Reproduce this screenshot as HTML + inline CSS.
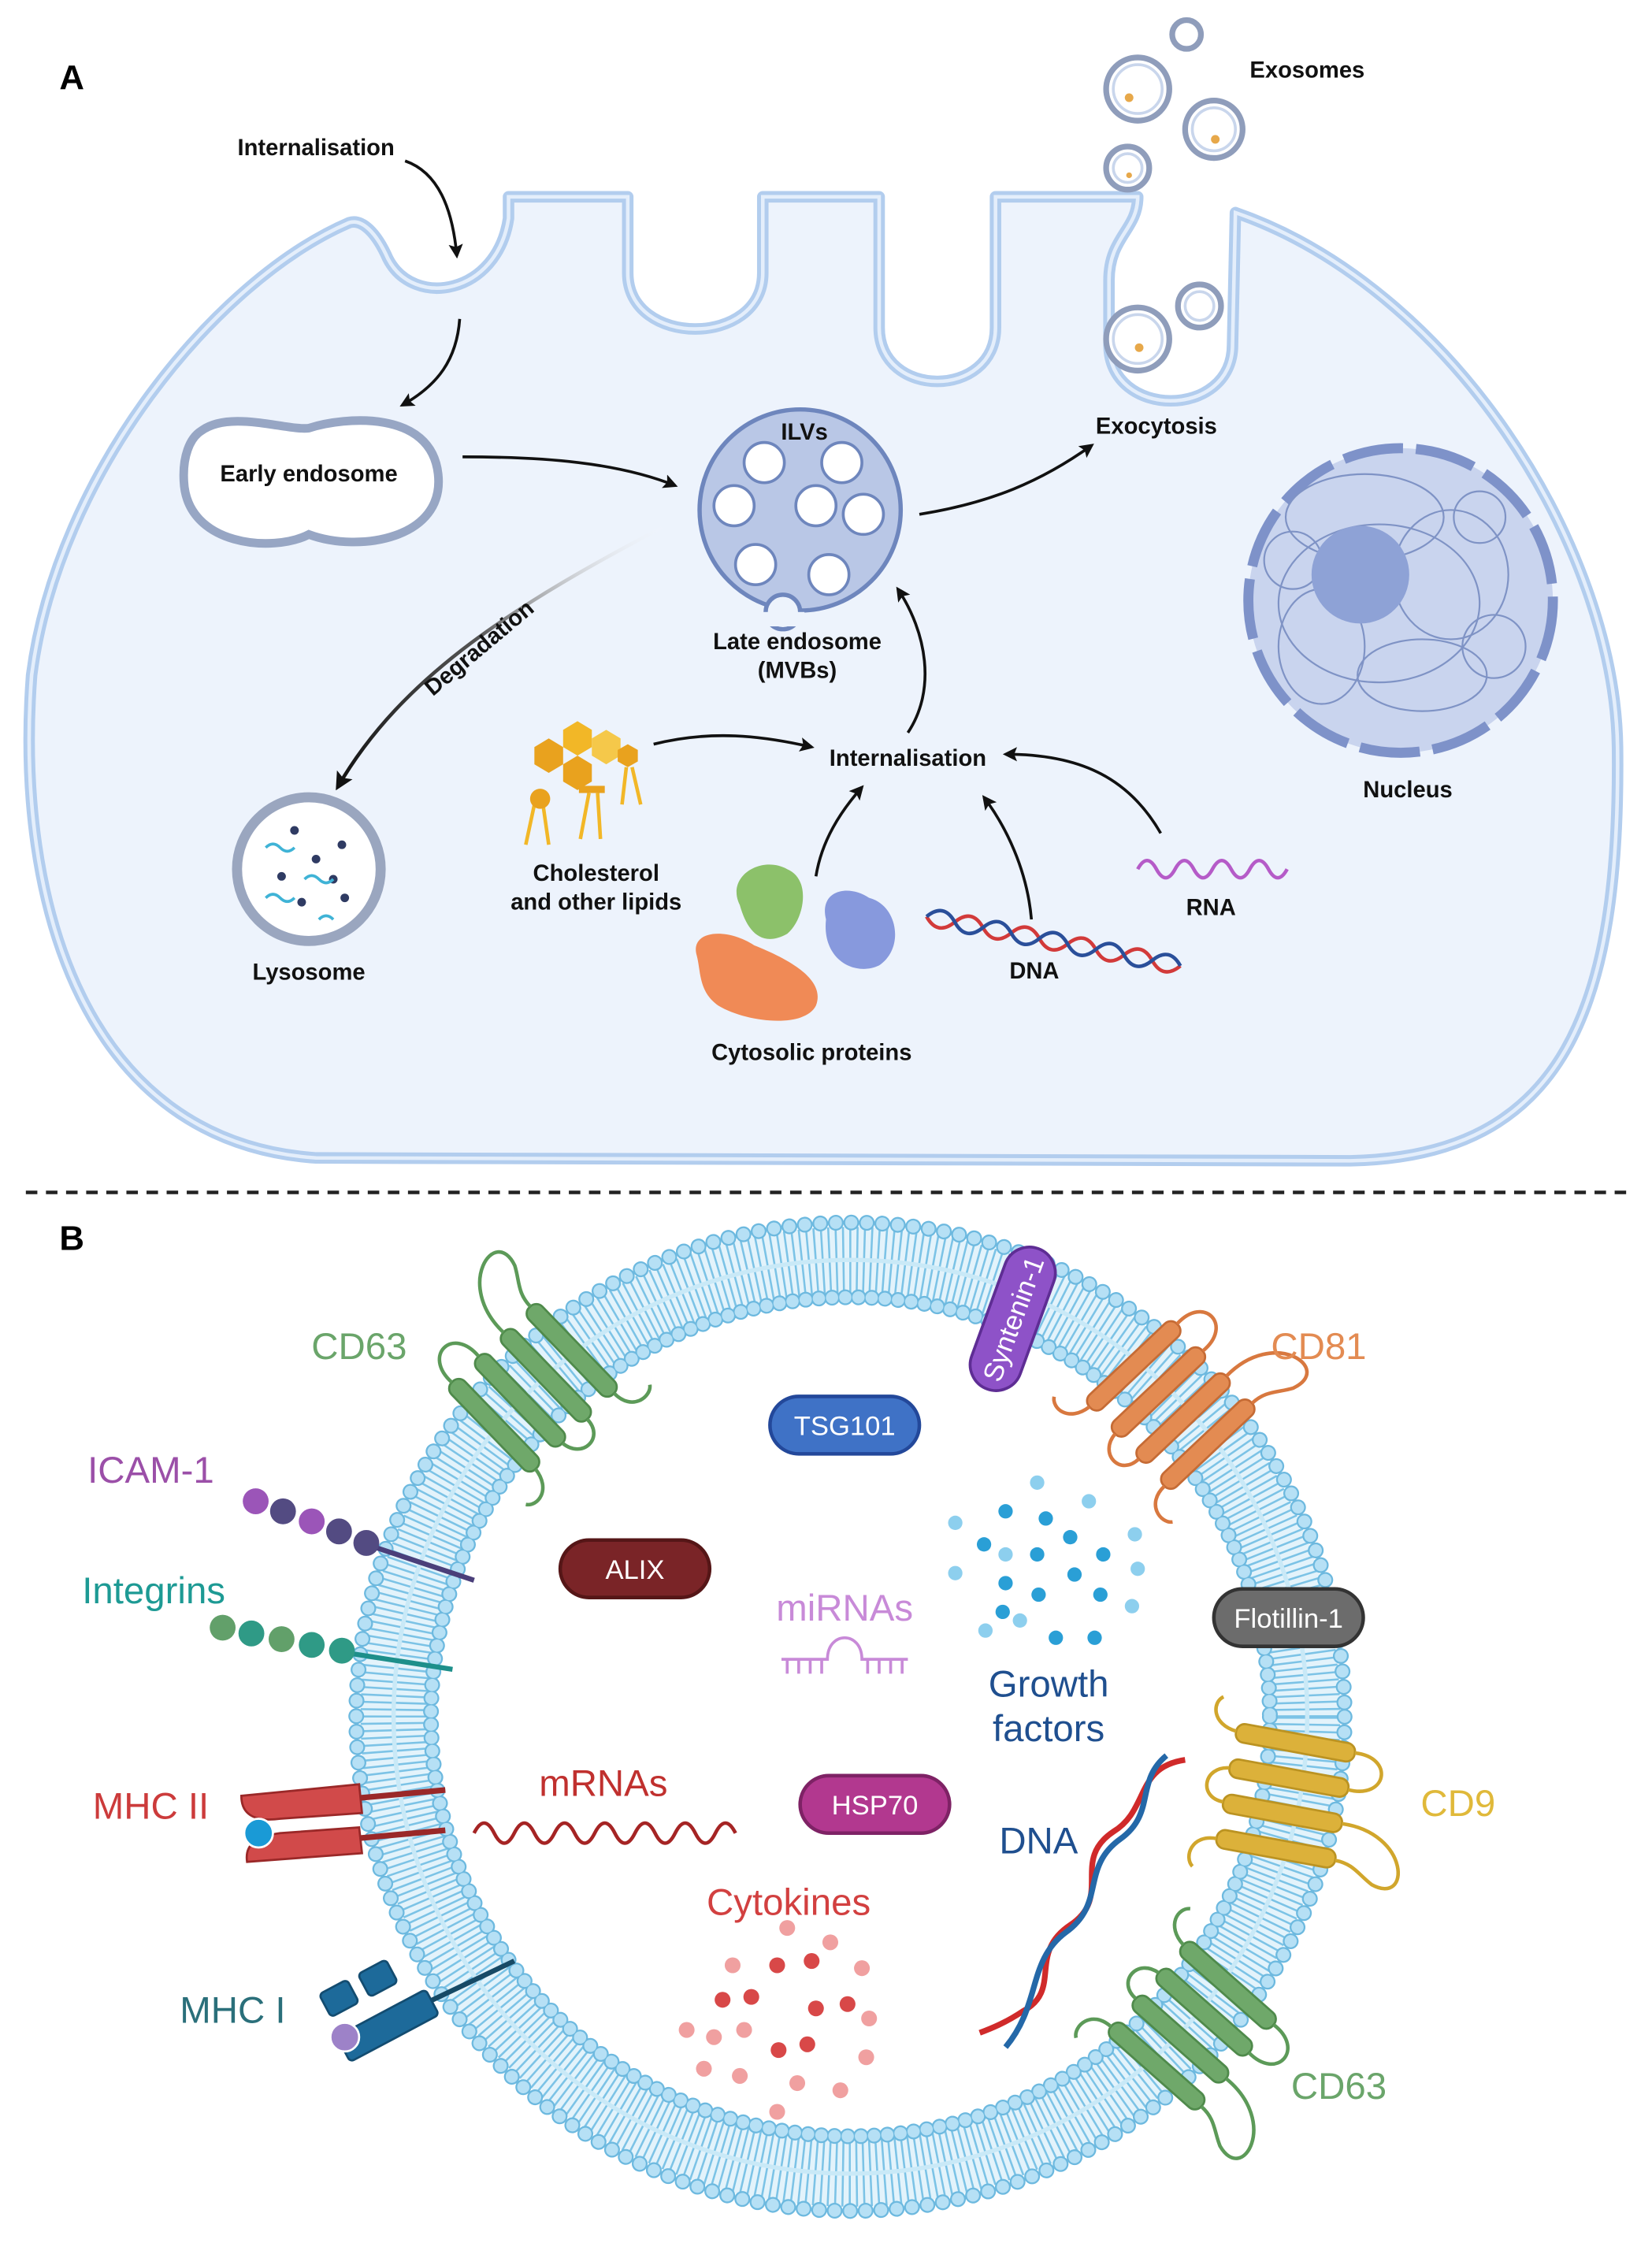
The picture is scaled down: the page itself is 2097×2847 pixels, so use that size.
<!DOCTYPE html>
<html><head><meta charset="utf-8"><style>
html,body{margin:0;padding:0;background:#fff}
svg{display:block}
.a{font-family:"Liberation Sans",sans-serif;font-weight:bold;font-size:16px;fill:#111;text-anchor:middle}
.b{font-family:"Liberation Sans",sans-serif;font-size:26px;text-anchor:middle}
.p{font-family:"Liberation Sans",sans-serif;font-size:19px;fill:#fff;text-anchor:middle}
</style></head><body>
<svg width="2097" height="2847" viewBox="0 0 1150 1561.3" xmlns="http://www.w3.org/2000/svg">
<defs>
<marker id="ar" viewBox="0 0 10 10" refX="8" refY="5" markerWidth="5" markerHeight="5" orient="auto"><path d="M0,0 L10,5 L0,10 L2,5z" fill="#111"/></marker>
<linearGradient id="dg" x1="1" y1="0" x2="0" y2="1"><stop offset="0" stop-color="#fff" stop-opacity="0"/><stop offset="0.5" stop-color="#555"/><stop offset="1" stop-color="#111"/></linearGradient>
</defs>
<rect width="1150" height="1562" fill="#fff"/>
<!-- PART A -->
<text x="50" y="62" font-family="Liberation Sans,sans-serif" font-weight="bold" font-size="24" text-anchor="middle">A</text>
<path d="M243,155 C150,195 40,330 22,470 C10,630 60,795 220,806 L940,808 C1090,805 1128,700 1126,520 C1124,380 1010,200 860,148 L858,240 C858,292 772,292 772,240 L772,195 C772,165 792,160 792,137 L693,137 L693,228 C693,278 612,278 612,228 L612,137 L531,137 L531,190 C531,242 437,242 437,190 L437,137 L354,137 L354,152 C346,205 288,215 270,180 C262,162 252,152 243,155Z" fill="#edf3fc" stroke="#b2cdee" stroke-width="8" stroke-linejoin="round"/>
<path d="M243,155 C150,195 40,330 22,470 C10,630 60,795 220,806 L940,808 C1090,805 1128,700 1126,520 C1124,380 1010,200 860,148 L858,240 C858,292 772,292 772,240 L772,195 C772,165 792,160 792,137 L693,137 L693,228 C693,278 612,278 612,228 L612,137 L531,137 L531,190 C531,242 437,242 437,190 L437,137 L354,137 L354,152 C346,205 288,215 270,180 C262,162 252,152 243,155Z" fill="none" stroke="#e4eefb" stroke-width="2.5"/>
<!-- exosomes -->
<g fill="#fff" stroke="#8f9dbb" stroke-width="4">
<circle cx="826" cy="24" r="10"/><circle cx="792" cy="62" r="22"/><circle cx="845" cy="90" r="20"/><circle cx="785" cy="117" r="15"/><circle cx="835" cy="213" r="15"/><circle cx="792" cy="236" r="22"/></g>
<g fill="none" stroke="#c9d6ec" stroke-width="2">
<circle cx="792" cy="62" r="17"/><circle cx="845" cy="90" r="15"/><circle cx="785" cy="117" r="10"/><circle cx="835" cy="213" r="10"/><circle cx="792" cy="236" r="17"/></g>
<g fill="#e7a84a"><circle cx="786" cy="68" r="3"/><circle cx="846" cy="97" r="3"/><circle cx="793" cy="242" r="3"/><circle cx="786" cy="122" r="2"/></g>
<text class="a" x="910" y="54">Exosomes</text>
<text class="a" x="220" y="108">Internalisation</text>
<path d="M282,112 C305,120 315,145 318,178" fill="none" stroke="#111" stroke-width="2" marker-end="url(#ar)"/>
<path d="M320,222 C318,250 305,268 280,282" fill="none" stroke="#111" stroke-width="2" marker-end="url(#ar)"/>
<!-- early endosome -->
<path d="M140,300 C160,285 200,300 215,298 C240,290 300,285 305,330 C310,375 250,385 215,372 C190,385 130,380 128,335 C127,318 132,305 140,300Z" fill="#fff" stroke="#97a6c4" stroke-width="6"/>
<text class="a" x="215" y="335">Early endosome</text>
<path d="M322,318 C380,318 430,322 470,338" fill="none" stroke="#111" stroke-width="2" marker-end="url(#ar)"/>
<!-- late endosome -->
<circle cx="557" cy="355" r="70" fill="#b9c7e6" stroke="#6e86bd" stroke-width="3"/>
<circle cx="545" cy="426" r="12" fill="#edf3fc" stroke="#6e86bd" stroke-width="3"/>
<rect x="530" y="426" width="30" height="10" fill="#edf3fc"/>
<g fill="#fff" stroke="#6e86bd" stroke-width="2">
<circle cx="532" cy="322" r="14"/><circle cx="586" cy="322" r="14"/><circle cx="511" cy="352" r="14"/><circle cx="568" cy="352" r="14"/><circle cx="601" cy="358" r="14"/><circle cx="526" cy="393" r="14"/><circle cx="577" cy="400" r="14"/></g>
<text class="a" x="560" y="306" font-size="12">ILVs</text>
<text class="a" x="555" y="452">Late endosome</text>
<text class="a" x="555" y="472">(MVBs)</text>
<path d="M640,358 C690,350 725,335 760,310" fill="none" stroke="#111" stroke-width="2" marker-end="url(#ar)"/>
<text class="a" x="805" y="302">Exocytosis</text>
<!-- nucleus -->
<circle cx="975" cy="418" r="106" fill="#c9d4ee" stroke="#7e92c9" stroke-width="7" stroke-dasharray="42 9"/>
<g fill="none" stroke="#7f93c5" stroke-width="1.2">
<ellipse cx="950" cy="360" rx="55" ry="30"/><ellipse cx="1010" cy="400" rx="40" ry="45"/><ellipse cx="920" cy="450" rx="30" ry="40"/><ellipse cx="990" cy="470" rx="45" ry="25"/><ellipse cx="960" cy="420" rx="70" ry="55"/><circle cx="1030" cy="360" r="18"/><circle cx="900" cy="390" r="20"/><circle cx="1040" cy="450" r="22"/></g>
<circle cx="947" cy="400" r="34" fill="#8ea2d6"/>
<text class="a" x="980" y="555">Nucleus</text>
<!-- degradation -->
<path d="M465,365 C360,420 280,470 235,548" fill="none" stroke="url(#dg)" stroke-width="2.5" marker-end="url(#ar)"/>
<text class="a" x="0" y="0" font-size="14" transform="translate(337,455) rotate(-40)">Degradation</text>
<!-- lysosome -->
<circle cx="215" cy="605" r="50" fill="#fff" stroke="#9aa6bf" stroke-width="7"/>
<g fill="#2f3b63"><circle cx="205" cy="578" r="3"/><circle cx="238" cy="588" r="3"/><circle cx="220" cy="598" r="3"/><circle cx="196" cy="610" r="3"/><circle cx="232" cy="612" r="3"/><circle cx="210" cy="628" r="3"/><circle cx="240" cy="625" r="3"/></g>
<g fill="none" stroke="#3fb3d6" stroke-width="2"><path d="M185,590 q5,-5 10,0 t10,0"/><path d="M212,612 q5,-5 10,0 t10,0"/><path d="M185,625 q5,-5 10,0 t10,0"/><path d="M222,640 q5,-5 10,0"/></g>
<text class="a" x="215" y="682">Lysosome</text>
<!-- internalisation center -->
<text class="a" x="632" y="533">Internalisation</text>
<path d="M455,518 C495,508 530,512 565,520" fill="none" stroke="#111" stroke-width="2" marker-end="url(#ar)"/>
<path d="M632,510 C652,480 645,440 625,410" fill="none" stroke="#111" stroke-width="2" marker-end="url(#ar)"/>
<path d="M568,610 C572,585 585,565 600,548" fill="none" stroke="#111" stroke-width="2" marker-end="url(#ar)"/>
<path d="M718,640 C715,605 700,575 685,555" fill="none" stroke="#111" stroke-width="2" marker-end="url(#ar)"/>
<path d="M808,580 C785,540 750,525 700,525" fill="none" stroke="#111" stroke-width="2" marker-end="url(#ar)"/>
<!-- lipids -->
<g stroke="none">
<path d="M372,520 l10,-6 10,6 0,12 -10,6 -10,-6z" fill="#e9a21e"/>
<path d="M392,508 l10,-6 10,6 0,12 -10,6 -10,-6z" fill="#f2b727"/>
<path d="M392,532 l10,-6 10,6 0,12 -10,6 -10,-6z" fill="#e9a21e"/>
<path d="M412,514 l10,-6 10,6 0,12 -10,6 -10,-6z" fill="#f5c84a"/>
<path d="M430,522 l7,-4 7,4 0,8 -7,4 -7,-4z" fill="#e9a21e"/>
</g>
<g fill="none" stroke="#f2b727" stroke-width="2.5"><path d="M372,560 l-6,28 M378,560 l4,28 M436,534 l-3,26 M440,534 l6,26 M410,552 l-6,32 M416,552 l2,32"/></g>
<circle cx="376" cy="556" r="7" fill="#e9a21e"/><rect x="403" y="547" width="18" height="5" fill="#e9a21e"/>
<text class="a" x="415" y="613">Cholesterol</text>
<text class="a" x="415" y="633">and other lipids</text>
<!-- proteins -->
<path d="M515,630 C505,610 530,595 548,605 C565,612 560,640 548,650 C530,660 520,648 515,630Z" fill="#8cc16a"/>
<path d="M575,640 C570,620 590,615 605,625 C625,630 630,660 612,672 C595,680 572,668 575,640Z" fill="#8799dd"/>
<path d="M485,665 C480,648 505,645 525,658 C550,668 575,682 568,700 C560,716 520,712 500,700 C486,690 488,676 485,665Z" fill="#f08a56"/>
<text class="a" x="565" y="738">Cytosolic proteins</text>
<!-- DNA A -->
<g transform="rotate(11 645 638)">
<path d="M645,638 q10,12 20,0 t20,0 t20,0 t20,0 t20,0 t20,0 t20,0 t20,0 t20,0" fill="none" stroke="#d23a3a" stroke-width="2.5"/>
<path d="M645,638 q10,-12 20,0 t20,0 t20,0 t20,0 t20,0 t20,0 t20,0 t20,0 t20,0" fill="none" stroke="#2a4f9a" stroke-width="2.5"/>
</g>
<text class="a" x="720" y="681">DNA</text>
<path d="M792,605 q6.5,-12 13,0 t13,0 t13,0 t13,0 t13,0 t13,0 t13,0 t13,0" fill="none" stroke="#b55bc8" stroke-width="2.5"/>
<text class="a" x="843" y="637">RNA</text>

<!-- PART B -->
<line x1="18" y1="830" x2="1135" y2="830" stroke="#222" stroke-width="2.5" stroke-dasharray="8 6"/>
<text x="50" y="870" font-family="Liberation Sans,sans-serif" font-weight="bold" font-size="24" text-anchor="middle">B</text>
<!-- membrane -->
<circle cx="592" cy="1195" r="318" fill="none" stroke="#e3f3fb" stroke-width="46"/>
<circle cx="592" cy="1195" r="318" fill="none" stroke="#7cc3e6" stroke-width="46" stroke-dasharray="1.4 3.4"/>
<circle cx="592" cy="1195" r="318" fill="none" stroke="#c9e9f7" stroke-width="3"/>
<circle cx="592" cy="1195" r="344" fill="none" stroke="#6db9df" stroke-width="11" stroke-linecap="round" stroke-dasharray="0.01 10.8"/>
<circle cx="592" cy="1195" r="344" fill="none" stroke="#b6e0f5" stroke-width="8.5" stroke-linecap="round" stroke-dasharray="0.01 10.8"/>
<circle cx="592" cy="1195" r="292" fill="none" stroke="#6db9df" stroke-width="11" stroke-linecap="round" stroke-dasharray="0.01 9.2"/>
<circle cx="592" cy="1195" r="292" fill="none" stroke="#b6e0f5" stroke-width="8.5" stroke-linecap="round" stroke-dasharray="0.01 9.2"/>
<!-- CD63 top-left -->
<g transform="translate(371,966) rotate(316)" fill="#6fa86a" stroke="#4f8a4b" stroke-width="1.5">
<rect x="-44" y="-42" width="13" height="84" rx="6"/><rect x="-19" y="-42" width="13" height="84" rx="6"/><rect x="6" y="-42" width="13" height="84" rx="6"/><rect x="31" y="-42" width="13" height="84" rx="6"/>
<g fill="none" stroke="#5c9a58" stroke-width="2.5"><path d="M-38,-42 C-40,-70 -10,-70 -12,-42"/><path d="M12,-42 C10,-90 60,-100 50,-70 C45,-60 38,-55 38,-42"/><path d="M-12,42 C-10,60 12,60 12,42"/><path d="M-38,42 C-40,60 -55,62 -60,55"/><path d="M38,42 C38,60 55,62 60,55"/></g></g>
<text class="b" x="250" y="946" fill="#6aa56a">CD63</text>
<!-- CD81 -->
<g transform="translate(815,978) rotate(46.6)" fill="#e38b52" stroke="#c56b35" stroke-width="1.5">
<rect x="-44" y="-42" width="13" height="84" rx="6"/><rect x="-19" y="-42" width="13" height="84" rx="6"/><rect x="6" y="-42" width="13" height="84" rx="6"/><rect x="31" y="-42" width="13" height="84" rx="6"/>
<g fill="none" stroke="#d8783f" stroke-width="2.5"><path d="M-38,-42 C-40,-70 -10,-70 -12,-42"/><path d="M12,-42 C10,-90 60,-100 50,-70 C45,-60 38,-55 38,-42"/><path d="M-12,42 C-10,60 12,60 12,42"/><path d="M-38,42 C-40,60 -55,62 -60,55"/><path d="M38,42 C38,60 55,62 60,55"/></g></g>
<text class="b" x="918" y="946" fill="#e38b52">CD81</text>
<!-- CD9 -->
<g transform="translate(895,1250) rotate(100.4)" fill="#dcb13a" stroke="#bb9322" stroke-width="1.5">
<rect x="-44" y="-42" width="13" height="84" rx="6"/><rect x="-19" y="-42" width="13" height="84" rx="6"/><rect x="6" y="-42" width="13" height="84" rx="6"/><rect x="31" y="-42" width="13" height="84" rx="6"/>
<g fill="none" stroke="#d1a62c" stroke-width="2.5"><path d="M-38,-42 C-40,-70 -10,-70 -12,-42"/><path d="M12,-42 C10,-90 60,-100 50,-70 C45,-60 38,-55 38,-42"/><path d="M-12,42 C-10,60 12,60 12,42"/><path d="M-38,42 C-40,60 -55,62 -60,55"/><path d="M38,42 C38,60 55,62 60,55"/></g></g>
<text class="b" x="1015" y="1264" fill="#e0b93a">CD9</text>
<!-- CD63 bottom-right -->
<g transform="translate(830,1410) rotate(131.5)" fill="#6fa86a" stroke="#4f8a4b" stroke-width="1.5">
<rect x="-44" y="-42" width="13" height="84" rx="6"/><rect x="-19" y="-42" width="13" height="84" rx="6"/><rect x="6" y="-42" width="13" height="84" rx="6"/><rect x="31" y="-42" width="13" height="84" rx="6"/>
<g fill="none" stroke="#5c9a58" stroke-width="2.5"><path d="M-38,-42 C-40,-70 -10,-70 -12,-42"/><path d="M12,-42 C10,-90 60,-100 50,-70 C45,-60 38,-55 38,-42"/><path d="M-12,42 C-10,60 12,60 12,42"/><path d="M-38,42 C-40,60 -55,62 -60,55"/><path d="M38,42 C38,60 55,62 60,55"/></g></g>
<text class="b" x="932" y="1461" fill="#6aa56a">CD63</text>
<!-- Syntenin -->
<g transform="translate(705,918) rotate(-70)"><rect x="-52" y="-18" width="104" height="36" rx="18" fill="#8e52c8" stroke="#5e2d94" stroke-width="2"/><text class="p" x="0" y="7">Syntenin-1</text></g>
<!-- ICAM-1 -->
<text class="b" x="105" y="1032" fill="#9b4fa8">ICAM-1</text>
<line x1="255" y1="1075" x2="330" y2="1100" stroke="#4a3f7a" stroke-width="3.5"/>
<circle cx="178" cy="1045" r="9" fill="#9b55b8"/><circle cx="197" cy="1052" r="9" fill="#534b82"/><circle cx="217" cy="1059" r="9" fill="#9b55b8"/><circle cx="236" cy="1066" r="9" fill="#534b82"/><circle cx="255" cy="1074" r="9" fill="#534b82"/>
<!-- Integrins -->
<text class="b" x="107" y="1116" fill="#1d9a94">Integrins</text>
<line x1="238" y1="1150" x2="315" y2="1162" stroke="#1d8f8a" stroke-width="3.5"/>
<circle cx="155" cy="1133" r="9" fill="#62a06a"/><circle cx="175" cy="1137" r="9" fill="#2f9a86"/><circle cx="196" cy="1141" r="9" fill="#62a06a"/><circle cx="217" cy="1145" r="9" fill="#2f9a86"/><circle cx="238" cy="1149" r="9" fill="#2f9a86"/>
<!-- MHC II -->
<text class="b" x="105" y="1266" fill="#cc3b3b">MHC II</text>
<line x1="245" y1="1252" x2="310" y2="1246" stroke="#9a2828" stroke-width="4"/>
<line x1="245" y1="1280" x2="310" y2="1274" stroke="#9a2828" stroke-width="4"/>
<path d="M168,1250 L250,1242 L252,1262 L195,1266 C180,1268 168,1265 168,1250Z" fill="#d14a4a" stroke="#9a2828" stroke-width="1.5"/>
<path d="M172,1296 L252,1290 L250,1272 L195,1276 C180,1278 170,1283 172,1296Z" fill="#d14a4a" stroke="#9a2828" stroke-width="1.5"/>
<circle cx="180" cy="1276" r="10" fill="#1a9ad6" stroke="#fff" stroke-width="1.5"/>
<!-- MHC I -->
<text class="b" x="162" y="1408" fill="#2a6f7a">MHC I</text>
<line x1="295" y1="1395" x2="358" y2="1365" stroke="#174a66" stroke-width="3.5"/>
<g fill="#1d6a9a" stroke="#134c70" stroke-width="1.5">
<rect x="225" y="1382" width="22" height="18" rx="3" transform="rotate(-28 236 1391)"/><rect x="252" y="1368" width="22" height="18" rx="3" transform="rotate(-28 263 1377)"/>
<rect x="235" y="1400" width="70" height="20" rx="3" transform="rotate(-28 270 1410)"/></g>
<circle cx="240" cy="1418" r="10" fill="#9d82c8" stroke="#fff" stroke-width="1.5"/>
<!-- pills -->
<rect x="536" y="972" width="104" height="40" rx="20" fill="#3f72c6" stroke="#23489a" stroke-width="2.5"/><text class="p" x="588" y="999">TSG101</text>
<rect x="390" y="1072" width="104" height="40" rx="20" fill="#7a2427" stroke="#551617" stroke-width="2.5"/><text class="p" x="442" y="1099">ALIX</text>
<rect x="845" y="1106" width="104" height="40" rx="20" fill="#6c6c6c" stroke="#333" stroke-width="2.5"/><text class="p" x="897" y="1133">Flotillin-1</text>
<rect x="557" y="1236" width="104" height="40" rx="20" fill="#b2388f" stroke="#7e2265" stroke-width="2.5"/><text class="p" x="609" y="1263">HSP70</text>
<!-- miRNA -->
<text class="b" x="588" y="1128" fill="#c88ad8">miRNAs</text>
<g fill="none" stroke="#c88ad8" stroke-width="2"><path d="M544,1155 L576,1155 C576,1135 600,1135 600,1155 L632,1155"/><path d="M548,1155 v10 M556,1155 v10 M564,1155 v10 M572,1155 v10 M604,1155 v10 M612,1155 v10 M620,1155 v10 M628,1155 v10"/></g>
<!-- growth factors -->
<g fill="#2a9fd6"><circle cx="700" cy="1052" r="5"/><circle cx="728" cy="1057" r="5"/><circle cx="685" cy="1075" r="5"/><circle cx="722" cy="1082" r="5"/><circle cx="745" cy="1070" r="5"/><circle cx="768" cy="1082" r="5"/><circle cx="700" cy="1102" r="5"/><circle cx="723" cy="1110" r="5"/><circle cx="748" cy="1096" r="5"/><circle cx="766" cy="1110" r="5"/><circle cx="735" cy="1140" r="5"/><circle cx="762" cy="1140" r="5"/><circle cx="698" cy="1122" r="5"/></g>
<g fill="#8dcfee"><circle cx="722" cy="1032" r="5"/><circle cx="665" cy="1060" r="5"/><circle cx="758" cy="1045" r="5"/><circle cx="790" cy="1068" r="5"/><circle cx="665" cy="1095" r="5"/><circle cx="700" cy="1082" r="5"/><circle cx="792" cy="1092" r="5"/><circle cx="686" cy="1135" r="5"/><circle cx="710" cy="1128" r="5"/><circle cx="788" cy="1118" r="5"/></g>
<text class="b" x="730" y="1181" fill="#1f4f8f">Growth</text>
<text class="b" x="730" y="1212" fill="#1f4f8f">factors</text>
<!-- mRNA -->
<text class="b" x="420" y="1250" fill="#c0302e">mRNAs</text>
<path d="M330,1276 q7,-14 14,0 t14,0 t14,0 t14,0 t14,0 t14,0 t14,0 t14,0 t14,0 t14,0 t14,0 t14,0 t14,0" fill="none" stroke="#a52424" stroke-width="2.5"/>
<!-- DNA B -->
<text class="b" x="723" y="1290" fill="#1f4f8f">DNA</text>
<path d="M825,1225 C790,1230 800,1260 775,1275 C745,1295 775,1320 745,1340 C715,1360 740,1385 712,1400 C700,1408 690,1412 682,1415" fill="none" stroke="#d02a2a" stroke-width="4"/>
<path d="M812,1222 C790,1240 805,1262 780,1280 C752,1300 770,1325 742,1345 C715,1365 725,1395 700,1425" fill="none" stroke="#2468a8" stroke-width="4"/>
<!-- cytokines -->
<text class="b" x="549" y="1333" fill="#d24040">Cytokines</text>
<g fill="#d84848"><circle cx="541" cy="1368" r="5.5"/><circle cx="565" cy="1365" r="5.5"/><circle cx="523" cy="1390" r="5.5"/><circle cx="568" cy="1398" r="5.5"/><circle cx="590" cy="1395" r="5.5"/><circle cx="542" cy="1427" r="5.5"/><circle cx="562" cy="1423" r="5.5"/><circle cx="503" cy="1392" r="5.5"/></g>
<g fill="#f0a0a0"><circle cx="548" cy="1342" r="5.5"/><circle cx="578" cy="1352" r="5.5"/><circle cx="510" cy="1368" r="5.5"/><circle cx="600" cy="1370" r="5.5"/><circle cx="478" cy="1413" r="5.5"/><circle cx="497" cy="1418" r="5.5"/><circle cx="518" cy="1413" r="5.5"/><circle cx="605" cy="1405" r="5.5"/><circle cx="603" cy="1432" r="5.5"/><circle cx="490" cy="1440" r="5.5"/><circle cx="515" cy="1445" r="5.5"/><circle cx="555" cy="1450" r="5.5"/><circle cx="585" cy="1455" r="5.5"/><circle cx="541" cy="1470" r="5.5"/></g>
</svg>
</body></html>
